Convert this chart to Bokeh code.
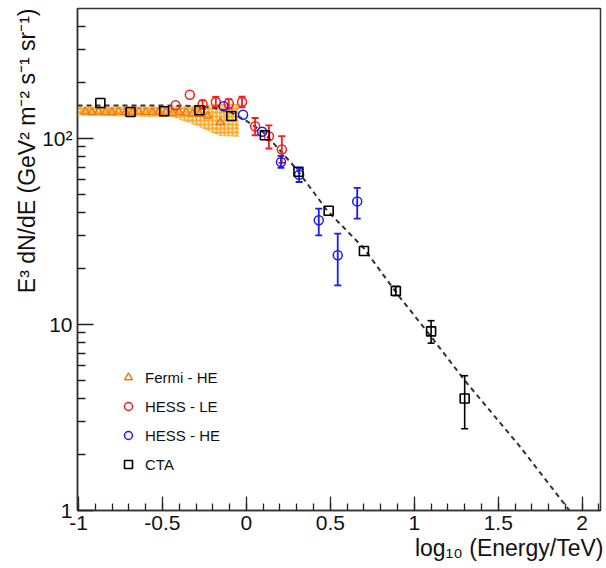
from bokeh.plotting import figure
from bokeh.models import (Range1d, FixedTicker, Legend, LegendItem, Title)
from bokeh.embed import file_html
from bokeh.resources import INLINE

# ---------------- data ----------------
# dashed model curve
fit_x = [-1.006, -0.5, -0.3, -0.2, -0.1, 0.0, 0.1, 0.2, 0.3, 0.48, 0.7, 0.9, 1.1, 1.3, 1.632, 1.924, 2.11]
fit_y = [150, 150, 149, 146, 139, 124, 108, 86, 68, 41, 25.6, 14.5, 8.6, 5.0, 2.19, 1.0, 0.61]

# Fermi - HE band
band_x = [-1.006, -0.44, -0.3, -0.16, -0.045]
band_lo = [132, 130, 117, 103, 102]
band_hi = [148, 148, 150, 153, 153]

# Fermi - HE points
fermi_x = [-0.96, -0.92, -0.88, -0.84, -0.80, -0.76, -0.72, -0.68, -0.64, -0.60,
           -0.56, -0.52, -0.48, -0.44, -0.40, -0.36, -0.32, -0.28, -0.23, -0.155]
fermi_y = [139, 138, 139, 138, 138, 139, 138, 138, 139, 138,
           138, 139, 138, 137, 138, 137, 136, 135, 132, 122]

# HESS - LE (points, then visible error bars)
hle_x = [-0.422, -0.337, -0.261, -0.182, -0.105, -0.026, 0.052, 0.134, 0.211]
hle_y = [150.4, 171.4, 152.4, 156.8, 153.7, 156.8, 116.0, 102.5, 87.1]
hle_err_x = [-0.261, -0.182, -0.105, -0.026, 0.052, 0.134, 0.211]
hle_lo = [144.5, 147.3, 144.5, 146.8, 103.8, 88.1, 73.8]
hle_hi = [160.0, 166.7, 162.1, 167.1, 128.5, 117.4, 102.7]

# HESS - HE
hhe_x = [-0.136, -0.020, 0.094, 0.206, 0.314, 0.431, 0.544, 0.660]
hhe_y = [148.6, 133.7, 108.4, 74.6, 63.6, 36.3, 23.5, 45.8]
hhe_err_x = [0.206, 0.314, 0.431, 0.544, 0.660]
hhe_lo = [69.4, 58.2, 30.1, 16.2, 37.0]
hhe_hi = [80.5, 68.7, 41.9, 30.7, 54.1]

# CTA
cta_x = [-0.87, -0.69, -0.49, -0.28, -0.09, 0.11, 0.31, 0.49, 0.70, 0.89, 1.10, 1.30]
cta_y = [154.8, 138.4, 139.7, 141.5, 131.8, 103.8, 66.1, 40.8, 24.8, 15.1, 9.17, 4.0]
cta_err_x = [0.89, 1.10, 1.30]
cta_lo = [14.3, 7.93, 2.75]
cta_hi = [16.0, 10.47, 5.30]

x_ticks = [-1, -0.5, 0, 0.5, 1, 1.5, 2]
x_tick_labels = {-1: "-1", -0.5: "-0.5", 0: "0", 0.5: "0.5", 1: "1", 1.5: "1.5", 2: "2"}
x_minor = [round(-1 + 0.1 * i, 1) for i in range(32)]
y_ticks = [1, 10, 100]
y_minor = [2, 3, 4, 5, 6, 7, 8, 9, 20, 30, 40, 50, 60, 70, 80, 90, 200, 300, 400]
y_tick_labels = {1: "1", 10: "10", 100: "10²"}

FONT = "Liberation Sans"
RED = "#ff1a1a"
BLUE = "#1a1aff"
ORANGE = "#ee7d1a"

p = figure(width=606, height=568, y_axis_type="log",
           x_range=Range1d(-1.006, 2.109), y_range=Range1d(1, 498),
           output_backend="svg", toolbar_location=None,
           min_border_left=77, min_border_right=6, min_border_top=8, min_border_bottom=58)
p.xgrid.visible = False
p.ygrid.visible = False
p.outline_line_color = "#333333"
p.outline_line_width = 1.5
p.background_fill_color = "white"
p.border_fill_color = "white"

for ax in (p.xaxis[0], p.yaxis[0]):
    ax.major_tick_out = 0
    ax.minor_tick_out = 0
    ax.major_tick_line_color = "#222222"
    ax.minor_tick_line_color = "#222222"
    ax.major_tick_line_width = 1.3
    ax.minor_tick_line_width = 1.3
    ax.axis_line_color = "#333333"
    ax.axis_line_width = 1.5
    ax.major_label_text_font = FONT
    ax.major_label_text_font_size = "21px"
    ax.major_label_text_color = "#111111"
    ax.major_label_standoff = 5

p.xaxis.ticker = FixedTicker(ticks=x_ticks, minor_ticks=x_minor)
p.xaxis.major_label_overrides = x_tick_labels
p.xaxis.major_tick_in = 14
p.xaxis.minor_tick_in = 7
p.yaxis.ticker = FixedTicker(ticks=y_ticks, minor_ticks=y_minor)
p.yaxis.major_label_overrides = y_tick_labels
p.yaxis.major_tick_in = 16
p.yaxis.minor_tick_in = 8

# Fermi band
p.varea(x=band_x, y1=band_lo, y2=band_hi, fill_color="#ffae2e", fill_alpha=1.0,
        hatch_pattern="dot", hatch_color="white", hatch_scale=4, hatch_weight=1.0)

# model curve
p.line(fit_x, fit_y, line_color="#333333", line_width=2, line_dash="5 4")

# Fermi points
r_fermi = p.scatter(fermi_x, fermi_y, marker="triangle", size=8, line_color=ORANGE,
                    fill_color=None, line_width=1.5)

# HESS - LE
p.segment(x0=hle_err_x, y0=hle_lo, x1=hle_err_x, y1=hle_hi, line_color=RED, line_width=1.8)
p.scatter(hle_err_x, hle_lo, marker="dash", size=7, line_color=RED, line_width=1.8)
p.scatter(hle_err_x, hle_hi, marker="dash", size=7, line_color=RED, line_width=1.8)
r_hle = p.scatter(hle_x, hle_y, marker="circle", size=9, line_color=RED, fill_color="white",
                  fill_alpha=0, line_width=1.5)

# HESS - HE
p.segment(x0=hhe_err_x, y0=hhe_lo, x1=hhe_err_x, y1=hhe_hi, line_color=BLUE, line_width=1.8)
p.scatter(hhe_err_x, hhe_lo, marker="dash", size=7, line_color=BLUE, line_width=1.8)
p.scatter(hhe_err_x, hhe_hi, marker="dash", size=7, line_color=BLUE, line_width=1.8)
r_hhe = p.scatter(hhe_x, hhe_y, marker="circle", size=9, line_color=BLUE, fill_color="white",
                  fill_alpha=0, line_width=1.5)

# CTA
p.segment(x0=cta_err_x, y0=cta_lo, x1=cta_err_x, y1=cta_hi, line_color="black", line_width=1.6)
p.scatter(cta_err_x, cta_lo, marker="dash", size=7, line_color="black", line_width=1.6)
p.scatter(cta_err_x, cta_hi, marker="dash", size=7, line_color="black", line_width=1.6)
r_cta = p.scatter(cta_x, cta_y, marker="square", size=9, line_color="black", fill_color="white",
                  fill_alpha=0, line_width=1.6)

legend = Legend(items=[LegendItem(label="Fermi - HE", renderers=[r_fermi]),
                       LegendItem(label="HESS - LE", renderers=[r_hle]),
                       LegendItem(label="HESS - HE", renderers=[r_hhe]),
                       LegendItem(label="CTA", renderers=[r_cta])],
                location=(31, 26), margin=0, padding=10, spacing=9,
                glyph_width=20, glyph_height=20, label_height=20, label_standoff=7,
                label_text_font=FONT, label_text_font_size="15px", label_text_color="#111111",
                border_line_alpha=0, background_fill_alpha=0)
p.add_layout(legend)

# axis titles (right-aligned, ROOT style)
p.add_layout(Title(text="log₁₀ (Energy/TeV)", align="right", text_font=FONT,
                   text_font_size="23px", text_font_style="normal", text_color="#111111",
                   standoff=0, offset=-3), "below")
p.add_layout(Title(text="E³ dN/dE (GeV² m⁻² s⁻¹ sr⁻¹)", align="right", text_font=FONT,
                   text_font_size="23px", text_font_style="normal", text_color="#111111",
                   standoff=0), "left")

open("out.html", "w").write(file_html(p, INLINE))
